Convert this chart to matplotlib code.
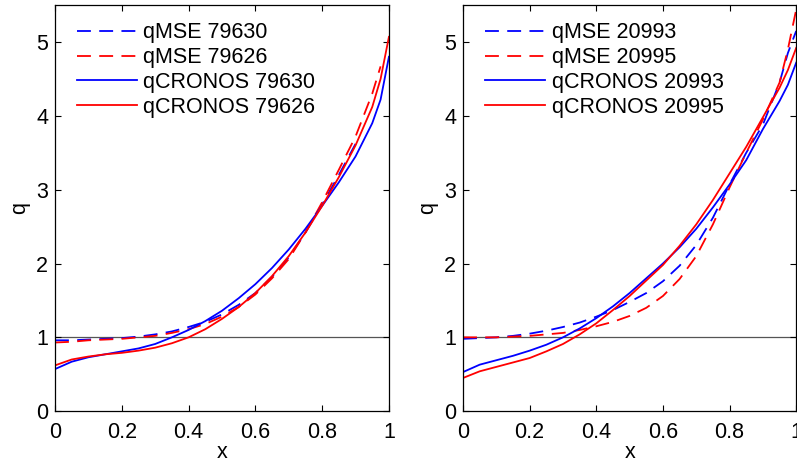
import matplotlib
matplotlib.use("Agg")
import matplotlib.pyplot as plt

plt.rcParams["font.family"] = ["Liberation Sans", "DejaVu Sans"]
plt.rcParams["lines.scale_dashes"] = False

# x grid shared by all curves
x = [0, 0.05, 0.1, 0.15, 0.2, 0.25, 0.3, 0.35, 0.4, 0.45, 0.5, 0.55,
     0.6, 0.65, 0.7, 0.75, 0.8, 0.85, 0.9, 0.95, 0.975, 1.0]

# left panel: shots 79630 / 79626
mse_79630 = [0.96, 0.96, 0.97, 0.98, 0.99, 1.01, 1.04, 1.08, 1.14, 1.21, 1.31, 1.44,
             1.60, 1.82, 2.08, 2.42, 2.80, 3.20, 3.62]
mse_79626 = [0.93, 0.94, 0.96, 0.97, 0.98, 1.00, 1.02, 1.06, 1.11, 1.18, 1.28, 1.41,
             1.58, 1.80, 2.06, 2.42, 2.83, 3.27, 3.72, 4.30, 4.67]
cronos_79630 = [0.57, 0.67, 0.73, 0.77, 0.81, 0.85, 0.91, 1.00, 1.10, 1.22, 1.36, 1.53,
                1.72, 1.94, 2.19, 2.47, 2.78, 3.10, 3.45, 3.90, 4.22, 4.80]
cronos_79626 = [0.62, 0.70, 0.74, 0.77, 0.79, 0.82, 0.86, 0.92, 1.00, 1.11, 1.25, 1.41,
                1.60, 1.83, 2.10, 2.42, 2.78, 3.17, 3.60, 4.12, 4.50, 5.07]

# right panel: shots 20993 / 20995
mse_20993 = [0.98, 0.99, 1.00, 1.02, 1.05, 1.09, 1.14, 1.20, 1.28, 1.37, 1.48, 1.60,
             1.76, 1.97, 2.25, 2.62, 3.07, 3.50, 3.88, 4.45, 4.85, 5.15]
mse_20995 = [1.00, 1.00, 1.00, 1.01, 1.02, 1.04, 1.06, 1.10, 1.15, 1.21, 1.29, 1.40,
             1.56, 1.79, 2.10, 2.53, 3.03, 3.50, 3.95, 4.45, 4.90, 5.44]
cronos_20993 = [0.53, 0.63, 0.69, 0.75, 0.82, 0.90, 1.00, 1.12, 1.26, 1.42, 1.60, 1.80,
                2.00, 2.22, 2.47, 2.76, 3.07, 3.40, 3.82, 4.20, 4.42, 4.72]
cronos_20995 = [0.45, 0.54, 0.60, 0.66, 0.72, 0.81, 0.91, 1.04, 1.19, 1.37, 1.56, 1.77,
                1.98, 2.24, 2.53, 2.86, 3.22, 3.58, 3.98, 4.38, 4.62, 4.92]

panels = [
    (("79630", mse_79630, cronos_79630), ("79626", mse_79626, cronos_79626)),
    (("20993", mse_20993, cronos_20993), ("20995", mse_20995, cronos_20995)),
]

fs = 15.5
fig = plt.figure(figsize=(7.97, 4.62), dpi=100)
axes = [fig.add_axes([0.069, 0.110, 0.419, 0.879]),
        fig.add_axes([0.581, 0.110, 0.418, 0.879])]

for ax, (blue, red) in zip(axes, panels):
    ax.axhline(1, color="#555555", lw=0.9, zorder=1)
    lines = []
    for (shot, mse, cr), col in ((blue, "blue"), (red, "red")):
        l, = ax.plot(x[:len(mse)], mse, color=col, lw=1.3, dashes=(10, 6),
                     label="qMSE " + shot)
        lines.append(l)
    for (shot, mse, cr), col in ((blue, "blue"), (red, "red")):
        l, = ax.plot(x[:len(cr)], cr, color=col, lw=1.3, label="qCRONOS " + shot)
        lines.append(l)
    ax.set_xlim(0, 1)
    ax.set_ylim(0, 5.5)
    ax.set_xticks([0, 0.2, 0.4, 0.6, 0.8, 1])
    ax.set_xticklabels(["0", "0.2", "0.4", "0.6", "0.8", "1"])
    ax.set_yticks([0, 1, 2, 3, 4, 5])
    ax.tick_params(direction="in", top=True, right=True, length=4, labelsize=fs)
    ax.tick_params(axis="x", pad=8)
    ax.tick_params(axis="y", pad=5)
    ax.set_xlabel("x", fontsize=fs, labelpad=-1)
    ax.set_ylabel("q", fontsize=fs, labelpad=4)
    for sp in ax.spines.values():
        sp.set_linewidth(0.9)
    ax.legend(handles=lines, loc="upper left", frameon=False, fontsize=fs,
              handlelength=2.8, handletextpad=0.3, labelspacing=0.18,
              borderaxespad=0.3, bbox_to_anchor=(0.02, 0.995))

fig.savefig("out.png", dpi=100)
